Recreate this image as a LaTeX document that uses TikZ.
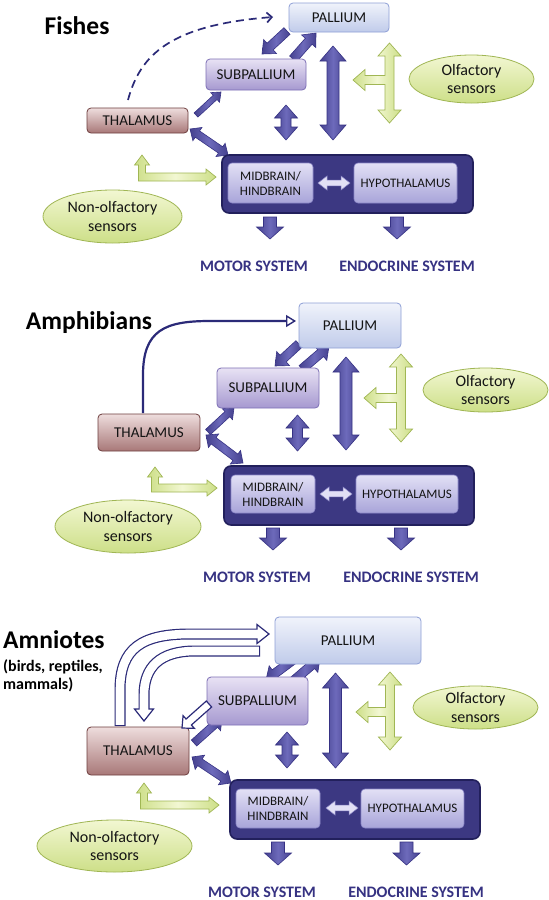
\documentclass[tikz,border=0pt]{standalone}
\usepackage{fontspec}
\setmainfont{Carlito}
\usetikzlibrary{calc,arrows.meta,shapes.geometric}
\definecolor{navy}{HTML}{2B2A78}
\definecolor{arrfill}{HTML}{46428F}
\definecolor{arrlight}{HTML}{6D6ABB}
\definecolor{arredge}{HTML}{363284}
\definecolor{palT}{HTML}{F0F3FB}
\definecolor{palB}{HTML}{C0CBEA}
\definecolor{palE}{HTML}{8E9FD6}
\definecolor{subT}{HTML}{E8E2F4}
\definecolor{subB}{HTML}{A699D0}
\definecolor{subE}{HTML}{7D6FB5}
\definecolor{thT}{HTML}{EEDDDD}
\definecolor{thB}{HTML}{A87878}
\definecolor{thE}{HTML}{6E3E3E}
\definecolor{darkF}{HTML}{3C3882}
\definecolor{darkE}{HTML}{22205C}
\definecolor{inT}{HTML}{E2E0F5}
\definecolor{inB}{HTML}{A8A4D9}
\definecolor{inE}{HTML}{8C88C8}
\definecolor{grT}{HTML}{F2F7D2}
\definecolor{grB}{HTML}{CDDF88}
\definecolor{grE}{HTML}{A0B654}
\definecolor{txtblue}{HTML}{363282}
\tikzset{
  boxbase/.style={line width=0.8pt, rounded corners=4pt, inner sep=0pt, text=black!92, font=\fontsize{15}{17}\selectfont},
  pal/.style={boxbase, draw=palE, top color=palT, bottom color=palB},
  subp/.style={boxbase, draw=subE, top color=subT, bottom color=subB},
  thal/.style={boxbase, draw=thE, top color=thT, bottom color=thB},
  darkbox/.style={draw=darkE, fill=darkF, line width=1.6pt, rounded corners=7pt, inner sep=0pt},
  innerbox/.style={draw=inE, line width=0.6pt, rounded corners=4pt, top color=inT, bottom color=inB, font=\fontsize{13}{15}\selectfont, text=black!92, align=center, inner sep=0pt},
  sens/.style={ellipse, draw=grE, line width=0.8pt, top color=grT, bottom color=grB, font=\fontsize{16}{18.5}\selectfont, text=black!92, align=center, inner sep=0pt},
  blk/.style={draw=arredge, line width=0.6pt, line join=miter, left color=arrfill, right color=arrfill, middle color=arrlight},
  grn/.style={draw=grE, line width=0.7pt, line join=miter, left color=grB, right color=grB, middle color=grT},
  lite/.style={draw=inE, line width=0.5pt, fill=inT},
  hollow/.style={draw=navy, line width=1.2pt, fill=white, line join=miter},
  sys/.style={font=\bfseries\fontsize{16}{18}\selectfont, text=txtblue, inner sep=0pt},
  ttl/.style={font=\bfseries\fontsize{25.5}{28}\selectfont, inner sep=0pt},
  subttl/.style={font=\bfseries\fontsize{16}{18}\selectfont, inner sep=0pt, anchor=west},
}
% single block arrow: style, from, to, shaft half, head half, head length
\newcommand\sarrow[6]{%
  \coordinate (qq) at ($(#3)!#6pt!(#2)$);
  \path[#1] ($(#2)!#4pt!90:(#3)$) -- ($(qq)!#4pt!90:(#3)$) -- ($(qq)!#5pt!90:(#3)$) -- (#3)
    -- ($(qq)!#5pt!-90:(#3)$) -- ($(qq)!#4pt!-90:(#3)$) -- ($(#2)!#4pt!-90:(#3)$) -- cycle;}
% double block arrow
\newcommand\darrow[6]{%
  \coordinate (qa) at ($(#2)!#6pt!(#3)$);
  \coordinate (qb) at ($(#3)!#6pt!(#2)$);
  \path[#1] (#2) -- ($(qa)!#5pt!90:(#3)$) -- ($(qa)!#4pt!90:(#3)$) -- ($(qb)!#4pt!-90:(#2)$)
    -- ($(qb)!#5pt!-90:(#2)$) -- (#3) -- ($(qb)!#5pt!90:(#2)$) -- ($(qb)!#4pt!90:(#2)$)
    -- ($(qa)!#4pt!-90:(#3)$) -- ($(qa)!#5pt!-90:(#3)$) -- cycle;}
% green T arrow: cx, top, bottom, arm y, left tip
\newcommand\greenT[5]{%
  \path[grn] (#1,#2) -- ({#1+11.5},{#2+13}) -- ({#1+4.5},{#2+13}) -- ({#1+4.5},{#3-13}) -- ({#1+11.5},{#3-13})
    -- (#1,#3) -- ({#1-11.5},{#3-13}) -- ({#1-4.5},{#3-13}) -- ({#1-4.5},{#4+4.5}) -- ({#5+12},{#4+4.5})
    -- ({#5+12},{#4+10.5}) -- (#5,#4) -- ({#5+12},{#4-10.5}) -- ({#5+12},{#4-4.5}) -- ({#1-4.5},{#4-4.5})
    -- ({#1-4.5},{#2+13}) -- ({#1-11.5},{#2+13}) -- cycle;}
% green L arrow: cx, top tip, arm y, right tip
\newcommand\greenL[4]{%
  \path[grn] (#1,#2) -- ({#1+7.5},{#2+10}) -- ({#1+3.5},{#2+10}) -- ({#1+3.5},{#3-4}) -- ({#4-10},{#3-4})
    -- ({#4-10},{#3-8}) -- (#4,#3) -- ({#4-10},{#3+8}) -- ({#4-10},{#3+4}) -- ({#1-3.5},{#3+4})
    -- ({#1-3.5},{#2+10}) -- ({#1-7.5},{#2+10}) -- cycle;}
\begin{document}
\begin{tikzpicture}[x=1pt,y=-1pt]
\fill[white] (0,0) rectangle (549,900);
\useasboundingbox (0,0) rectangle (549,900);

%================ PANEL 1: FISHES ================
\node[ttl] (t1) at (77,26) {Fishes};
\coordinate (p1a) at (287,31); \coordinate (p1b) at (262,54);
\coordinate (p1c) at (293,59); \coordinate (p1d) at (316,33);
\coordinate (p1e) at (196,115); \coordinate (p1f) at (221,92);
\coordinate (p1g) at (190,129); \coordinate (p1h) at (228,155);
\coordinate (p1i) at (286,105); \coordinate (p1j) at (286,140);
\coordinate (p1k) at (333,46); \coordinate (p1l) at (333,140);
\coordinate (p1m) at (318,183); \coordinate (p1n) at (350,183);
\coordinate (p1o) at (270,217); \coordinate (p1p) at (270,239);
\coordinate (p1q) at (397,217); \coordinate (p1r) at (397,239);
\coordinate (d1s) at (128,100); \coordinate (d1a) at (140,55);
\coordinate (d1b) at (170,25); \coordinate (d1e) at (273,17);
\sarrow{blk}{p1a}{p1b}{4.5}{9.5}{11}
\sarrow{blk}{p1c}{p1d}{4.5}{9.5}{11}
\sarrow{blk}{p1e}{p1f}{2.8}{6.5}{8}
\darrow{blk}{p1g}{p1h}{3.8}{8}{9}
\darrow{blk}{p1i}{p1j}{5}{11.5}{13}
\darrow{blk}{p1k}{p1l}{6}{13}{15}
\greenT{389.5}{43}{123}{80}{353}
\greenL{142}{155}{177}{216}
\draw[navy, line width=1.7pt, dash pattern=on 8pt off 5pt, -{Straight Barb[length=5pt,width=10pt]}]
  (d1s) .. controls (d1a) and (d1b) .. (d1e);
\node[pal, minimum width=100pt, minimum height=29pt] (pal1) at (339,17.5) {PALLIUM};
\node[subp, minimum width=100pt, minimum height=31pt] (sub1) at (256,74.5) {SUBPALLIUM};
\node[thal, minimum width=101pt, minimum height=25pt] (thal1) at (137.5,120.5) {THALAMUS};
\node[darkbox, minimum width=251pt, minimum height=58pt] (dark1) at (347.5,184) {};
\node[innerbox, minimum width=85pt, minimum height=40pt] (mid1) at (270.5,183) {MIDBRAIN/\\HINDBRAIN};
\node[innerbox, minimum width=103pt, minimum height=40pt] (hyp1) at (405.5,183) {HYPOTHALAMUS};
\darrow{lite}{p1m}{p1n}{2.8}{7}{9}
\node[sens, minimum width=125pt, minimum height=48pt] (olf1) at (471.5,79) {Olfactory\\sensors};
\node[sens, minimum width=139pt, minimum height=53pt] (non1) at (112.5,216.5) {Non-olfactory\\sensors};
\sarrow{blk}{p1o}{p1p}{6.5}{13.5}{12}
\sarrow{blk}{p1q}{p1r}{6.5}{13.5}{12}
\node[sys] (mot1) at (254,266) {MOTOR SYSTEM};
\node[sys] (end1) at (407,266) {ENDOCRINE SYSTEM};

%================ PANEL 2: AMPHIBIANS ================
\node[ttl] (t2) at (89,323) {Amphibians};
\coordinate (p2a) at (299,344); \coordinate (p2b) at (275,366);
\coordinate (p2c) at (302,369); \coordinate (p2d) at (329,346);
\coordinate (p2e) at (208,432); \coordinate (p2f) at (234,408);
\coordinate (p2g) at (206,435); \coordinate (p2h) at (243,463);
\coordinate (p2i) at (297.5,415); \coordinate (p2j) at (297.5,451);
\coordinate (p2k) at (346,357); \coordinate (p2l) at (346,450);
\coordinate (p2m) at (320,494); \coordinate (p2n) at (352,494);
\coordinate (p2o) at (273,528); \coordinate (p2p) at (273,550);
\coordinate (p2q) at (401,528); \coordinate (p2r) at (401,550);
\coordinate (c2s) at (143,413); \coordinate (c2a) at (143,375);
\coordinate (c2b) at (143,330); \coordinate (c2c) at (165,321);
\coordinate (c2d) at (210,321); \coordinate (c2e) at (296,321);
\sarrow{blk}{p2a}{p2b}{4.5}{9.5}{11}
\sarrow{blk}{p2c}{p2d}{4.5}{9.5}{11}
\sarrow{blk}{p2e}{p2f}{3.5}{7.5}{9}
\darrow{blk}{p2g}{p2h}{4}{8.5}{9.5}
\darrow{blk}{p2i}{p2j}{5}{11.5}{13}
\darrow{blk}{p2k}{p2l}{6}{13}{15}
\greenT{401}{354}{442}{398}{364}
\greenL{155}{467}{488}{217}
\draw[navy, line width=2.2pt, -{Triangle[open, length=10pt, width=12pt, line width=1.4pt]}]
  (c2s) -- (c2a) .. controls (c2b) and (c2c) .. (c2d) -- (c2e);
\node[pal, minimum width=102pt, minimum height=45pt] (pal2) at (350,325.5) {PALLIUM};
\node[subp, minimum width=102pt, minimum height=40pt] (sub2) at (268,388) {SUBPALLIUM};
\node[thal, minimum width=102pt, minimum height=37pt] (thal2) at (149,432.5) {THALAMUS};
\node[darkbox, minimum width=250pt, minimum height=59pt] (dark2) at (349,495.5) {};
\node[innerbox, minimum width=84pt, minimum height=38pt] (mid2) at (273,494) {MIDBRAIN/\\HINDBRAIN};
\node[innerbox, minimum width=102pt, minimum height=38pt] (hyp2) at (407,494) {HYPOTHALAMUS};
\darrow{lite}{p2m}{p2n}{2.8}{7}{9}
\node[sens, minimum width=125pt, minimum height=44pt] (olf2) at (485.5,390) {Olfactory\\sensors};
\node[sens, minimum width=146pt, minimum height=53pt] (non2) at (128,526.5) {Non-olfactory\\sensors};
\sarrow{blk}{p2o}{p2p}{6.5}{13.5}{12}
\sarrow{blk}{p2q}{p2r}{6.5}{13.5}{12}
\node[sys] (mot2) at (257,577) {MOTOR SYSTEM};
\node[sys] (end2) at (411,577) {ENDOCRINE SYSTEM};

%================ PANEL 3: AMNIOTES ================
\node[ttl, anchor=west] (t3) at (3,640) {Amniotes};
\node[subttl] (t3b) at (3,667) {(birds, reptiles,};
\node[subttl] (t3c) at (3,685) {mammals)};
\coordinate (p3a) at (293,660); \coordinate (p3b) at (266,680);
\coordinate (p3c) at (292,682); \coordinate (p3d) at (320,658);
\coordinate (p3e) at (194,743); \coordinate (p3f) at (222,718);
\coordinate (p3g) at (192,757); \coordinate (p3h) at (231,783);
\coordinate (p3i) at (287,732); \coordinate (p3j) at (287,768);
\coordinate (p3k) at (335.5,673); \coordinate (p3l) at (335.5,768);
\coordinate (p3m) at (326,808); \coordinate (p3n) at (358,808);
\coordinate (p3o) at (278,842); \coordinate (p3p) at (278,865);
\coordinate (p3q) at (406.5,842); \coordinate (p3r) at (406.5,865);
\coordinate (ws) at (209,704); \coordinate (we) at (182,728);
\coordinate (o1) at (120,726); \coordinate (o2) at (120,690);
\coordinate (o3) at (120,648); \coordinate (o4) at (142,634);
\coordinate (o5) at (190,634); \coordinate (o6) at (257,634);
\coordinate (o7) at (257,624.5); \coordinate (o8) at (269,634); \coordinate (o9) at (257,643.5);
\coordinate (i1) at (260,651); \coordinate (i2) at (195,651);
\coordinate (i3) at (160,651); \coordinate (i4) at (144,667);
\coordinate (i5) at (144,695); \coordinate (i6) at (144,709);
\coordinate (i7) at (134.5,709); \coordinate (i8) at (144,721); \coordinate (i9) at (153.5,709);
\draw[navy, line width=11pt] (o1) -- (o2) .. controls (o3) and (o4) .. (o5) -- (o6);
\path[hollow] (o7) -- (o8) -- (o9) -- cycle;
\draw[white, line width=8.6pt, shorten <=1.2pt, shorten >=-1.5pt] (o1) -- (o2) .. controls (o3) and (o4) .. (o5) -- (o6);
\draw[navy, line width=11pt] (i1) -- (i2) .. controls (i3) and (i4) .. (i5) -- (i6);
\path[hollow] (i7) -- (i8) -- (i9) -- cycle;
\draw[white, line width=8.6pt, shorten <=1.2pt, shorten >=-1.5pt] (i1) -- (i2) .. controls (i3) and (i4) .. (i5) -- (i6);
\sarrow{blk}{p3a}{p3b}{4.5}{9.5}{11}
\sarrow{blk}{p3c}{p3d}{4.5}{9.5}{11}
\sarrow{blk}{p3e}{p3f}{4}{8.5}{9.5}
\darrow{blk}{p3g}{p3h}{4}{8.5}{9.5}
\darrow{blk}{p3i}{p3j}{5}{11.5}{13}
\darrow{blk}{p3k}{p3l}{6}{13}{15}
\greenT{390}{672}{750}{712}{356}
\greenL{144}{783}{805}{219}
\node[pal, minimum width=146pt, minimum height=47pt] (pal3) at (348,640.5) {PALLIUM};
\node[subp, minimum width=101pt, minimum height=48pt] (sub3) at (257.5,701) {SUBPALLIUM};
\node[thal, minimum width=102pt, minimum height=48pt] (thal3) at (138,751) {THALAMUS};
\sarrow{hollow}{ws}{we}{4}{8.5}{9}
\node[darkbox, minimum width=250pt, minimum height=59pt] (dark3) at (355,809.5) {};
\node[innerbox, minimum width=84pt, minimum height=39pt] (mid3) at (278,808.5) {MIDBRAIN/\\HINDBRAIN};
\node[innerbox, minimum width=103pt, minimum height=39pt] (hyp3) at (412.5,808.5) {HYPOTHALAMUS};
\darrow{lite}{p3m}{p3n}{2.8}{7}{9}
\node[sens, minimum width=125pt, minimum height=43pt] (olf3) at (475.5,707.5) {Olfactory\\sensors};
\node[sens, minimum width=155pt, minimum height=52pt] (non3) at (114.5,846) {Non-olfactory\\sensors};
\sarrow{blk}{p3o}{p3p}{6.5}{13.5}{12}
\sarrow{blk}{p3q}{p3r}{6.5}{13.5}{12}
\node[sys] (mot3) at (262,892) {MOTOR SYSTEM};
\node[sys] (end3) at (416,892) {ENDOCRINE SYSTEM};
\end{tikzpicture}
\end{document}
